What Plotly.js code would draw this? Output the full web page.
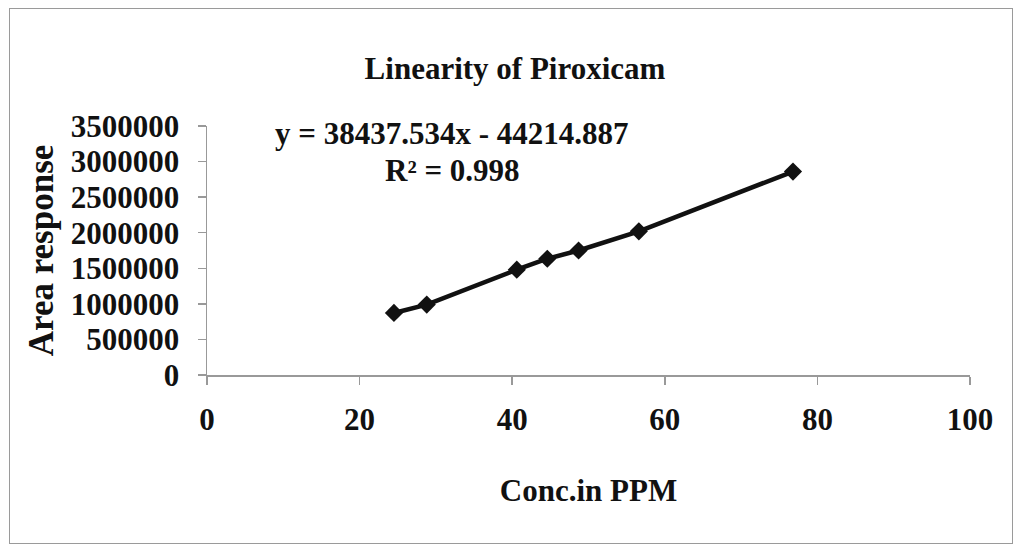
<!DOCTYPE html>
<html>
<head>
<meta charset="utf-8">
<script src="https://cdn.plot.ly/plotly-3.0.1.min.js"></script>
<style>
html,body{margin:0;padding:0;background:#fff;}
#frame{position:absolute;left:9px;top:8px;width:1004px;height:536px;border:1px solid #9a9a9a;box-sizing:border-box;}
#chart{position:absolute;left:0;top:0;width:1022px;height:553px;}
</style>
</head>
<body>
<div id="frame"></div>
<div id="chart"></div>
<script>
const conc = [24.5, 28.8, 40.6, 44.6, 48.7, 56.6, 76.8];
const area = [872000, 990000, 1480000, 1634000, 1750000, 2020000, 2860000];
const yTicks = [0, 500000, 1000000, 1500000, 2000000, 2500000, 3000000, 3500000];
const xTicks = [0, 20, 40, 60, 80, 100];
const titleText = "Linearity of Piroxicam";
const eqText = "y = 38437.534x - 44214.887";
const r2Text = "R² = 0.998";

const fontFam = "Liberation Serif, Times New Roman, serif";
const FS = 31;

const trace = {
  x: conc, y: area, type: 'scatter', mode: 'lines+markers',
  line: {color: '#111', width: 4.5},
  marker: {symbol: 'diamond', size: 14, color: '#111'},
  hoverinfo: 'none', showlegend: false
};

const layout = {
  width: 1022, height: 553,
  margin: {l: 207, r: 52, t: 126, b: 178},
  paper_bgcolor: 'rgba(0,0,0,0)', plot_bgcolor: 'rgba(0,0,0,0)',
  font: {family: fontFam, color: '#111', size: FS},
  title: {text: '<b>' + titleText + '</b>', x: 515/1022, xanchor: 'center', y: 1 - 68/553, yanchor: 'middle',
          font: {family: fontFam, size: FS, color: '#111'}},
  xaxis: {
    range: [0, 100], tickvals: xTicks, ticktext: xTicks.map(v => '<b>' + v + '</b>'),
    showgrid: false, zeroline: false, showline: true, linecolor: '#999', linewidth: 1.5,
    ticks: 'outside', ticklen: 8, tickcolor: '#999', tickwidth: 1.5,
    ticklabelstandoff: 8,
    tickfont: {family: fontFam, size: FS, color: '#111'},
    title: {text: '<b>Conc.in PPM</b>', font: {family: fontFam, size: FS, color: '#111'}, standoff: 43}
  },
  yaxis: {
    range: [0, 3500000], tickvals: yTicks, ticktext: yTicks.map(v => '<b>' + v + '</b>'),
    showgrid: false, zeroline: false, showline: true, linecolor: '#999', linewidth: 1.5,
    ticks: 'outside', ticklen: 8, tickcolor: '#999', tickwidth: 1.5,
    ticklabelstandoff: 12,
    tickfont: {family: fontFam, size: FS, color: '#111'},
    title: {text: '<b>Area response</b>', font: {family: fontFam, size: 35, color: '#111'}, standoff: 6}
  },
  annotations: [
    {xref: 'paper', yref: 'paper', x: (452-207)/763, y: (375-133)/249, xanchor: 'center', yanchor: 'middle',
     text: '<b>' + eqText + '</b>', showarrow: false, font: {family: fontFam, size: FS, color: '#111'}},
    {xref: 'paper', yref: 'paper', x: (452-207)/763, y: (375-170)/249, xanchor: 'center', yanchor: 'middle',
     text: '<b>' + r2Text + '</b>', showarrow: false, font: {family: fontFam, size: FS, color: '#111'}}
  ]
};

Plotly.newPlot('chart', [trace], layout, {displayModeBar: false, staticPlot: true});
</script>
</body>
</html>
